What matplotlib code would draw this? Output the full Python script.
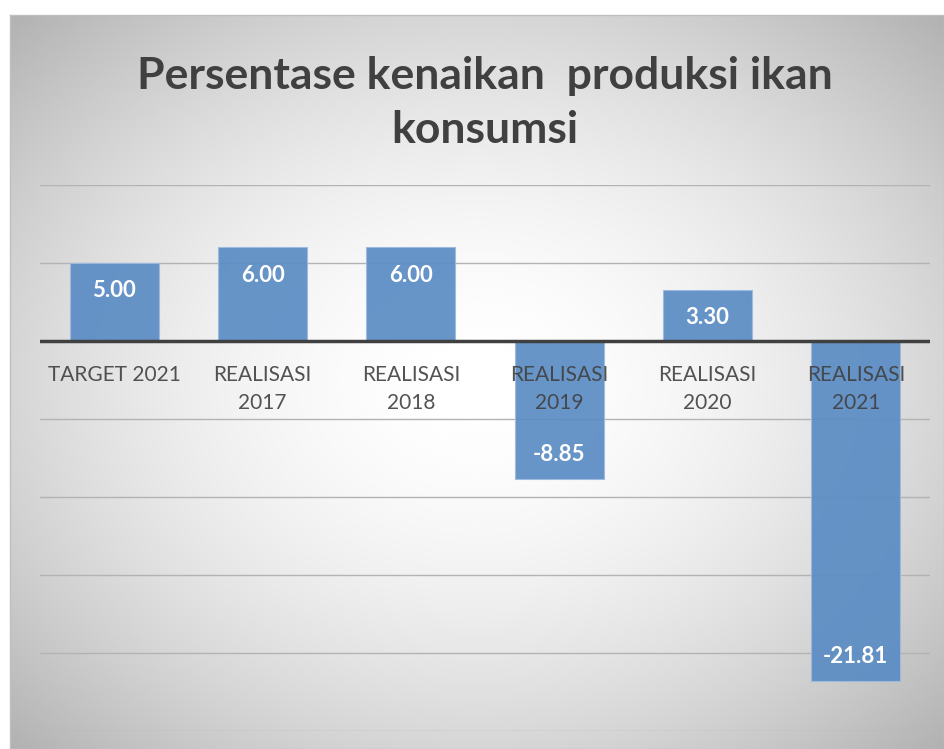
import numpy as np
import matplotlib.pyplot as plt

plt.rcParams['font.family'] = ['Lato', 'DejaVu Sans']

# data
categories = ['TARGET 2021', 'REALISASI\n2017', 'REALISASI\n2018',
              'REALISASI\n2019', 'REALISASI\n2020', 'REALISASI\n2021']
values = [5.00, 6.00, 6.00, -8.85, 3.30, -21.81]
title = 'Persentase kenaikan  produksi ikan\nkonsumsi'

W, H = 944, 749
fig = plt.figure(figsize=(W / 100, H / 100), dpi=100)
fig.patch.set_facecolor('white')

# chart area background: radial gradient, white in the middle
bx0, by0 = 10 / W, 0.0
bg = fig.add_axes([bx0, by0, 1 - bx0, 1 - 15 / H], zorder=0)
yy, xx = np.mgrid[0:1:300j, 0:1:300j]
r = np.sqrt(((xx - 0.5) / 0.62) ** 2 + ((yy - 0.5) / 0.62) ** 2)
shade = 1 - 0.24 * np.clip(r, 0, 1.3) ** 1.8
bg.imshow(shade, cmap='gray', vmin=0, vmax=1, extent=[0, 1, 0, 1],
          aspect='auto', origin='upper', interpolation='bicubic')
bg.set_xticks([])
bg.set_yticks([])
for s in bg.spines.values():
    s.set_color('#bfbfbf')
    s.set_linewidth(1)

fig.text(485 / W, 1 - 103 / H, title, ha='center', va='center',
         fontsize=32, fontweight='bold', color='#404040', linespacing=1.42,
         zorder=5)

ax = fig.add_axes([40 / W, 1 - 731 / H, 890 / W, (731 - 185) / H], zorder=2)
ax.patch.set_alpha(0)
x = np.arange(len(categories))
ax.set_xlim(-0.5, len(categories) - 0.5)
ax.set_ylim(-25, 10)

for g in [10, 5, -5, -10, -15, -20, -25]:
    ax.axhline(g, color='#b3b3b3', lw=1, zorder=1)

ax.bar(x, values, width=0.6, color='#5b8cc4', alpha=0.92,
       edgecolor='#9dbbe0', linewidth=0.8, zorder=3)
ax.axhline(0, color='#404040', lw=2.5, zorder=4)

for i, c in enumerate(categories):
    ax.annotate(c, (i, 0), xytext=(0, -17), textcoords='offset points',
                ha='center', va='top', fontsize=15, color='#404040',
                alpha=0.9, linespacing=1.55, zorder=3.5)

for i, v in enumerate(values):
    off = -20 if v > 0 else 18
    ax.annotate(f'{v:.2f}', (i, v), xytext=(0, off),
                textcoords='offset points', ha='center', va='center',
                fontsize=16, fontweight='bold', color='white', zorder=5)

for s in ax.spines.values():
    s.set_visible(False)
ax.set_xticks([])
ax.set_yticks([])

fig.savefig('out.png', dpi=100)
